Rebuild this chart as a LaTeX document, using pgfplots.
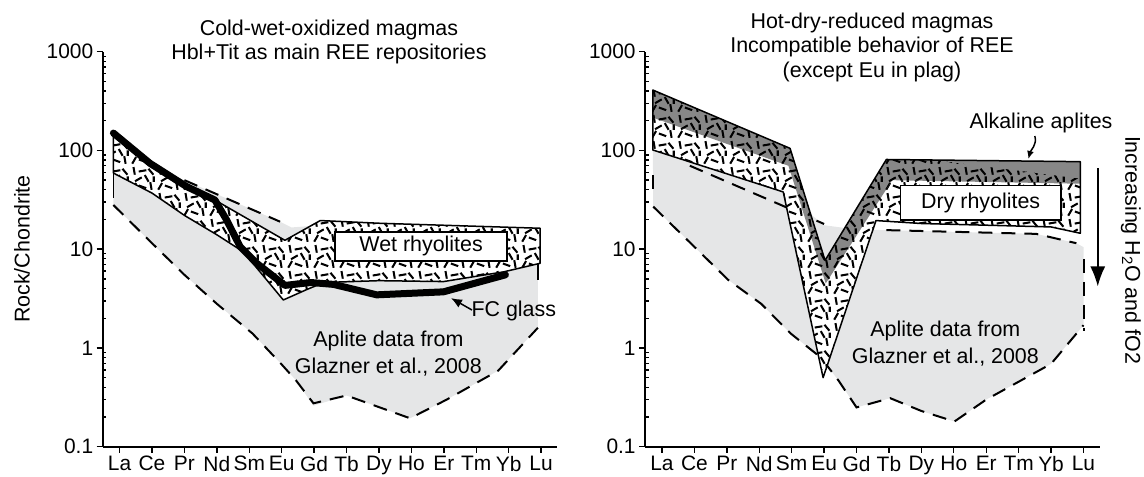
\documentclass[border=0pt]{standalone}
\usepackage{fontspec}
\setmainfont{Liberation Sans}
\usepackage{pgfplots}
\pgfplotsset{compat=1.18}
\usetikzlibrary{patterns,arrows.meta}

\definecolor{aplite}{RGB}{229,230,231}
\definecolor{band}{RGB}{135,135,135}

\pgfdeclarepatternformonly{volc}{\pgfqpoint{0bp}{0bp}}{\pgfqpoint{26bp}{26bp}}{\pgfqpoint{26bp}{26bp}}{%
  \pgfsetlinewidth{2.1bp}%
  \pgfsetbuttcap
  \pgfpathmoveto{\pgfqpoint{2.3bp}{1.34bp}}\pgfpathlineto{\pgfqpoint{6.3bp}{8.26bp}}%
  \pgfpathmoveto{\pgfqpoint{9.24bp}{5.67bp}}\pgfpathlineto{\pgfqpoint{16.76bp}{2.93bp}}%
  \pgfpathmoveto{\pgfqpoint{22.39bp}{1.26bp}}\pgfpathlineto{\pgfqpoint{21.01bp}{9.14bp}}%
  \pgfpathmoveto{\pgfqpoint{5.24bp}{10.1bp}}\pgfpathlineto{\pgfqpoint{12.16bp}{14.1bp}}%
  \pgfpathmoveto{\pgfqpoint{15.3bp}{16.46bp}}\pgfpathlineto{\pgfqpoint{19.3bp}{9.54bp}}%
  \pgfpathmoveto{\pgfqpoint{3.61bp}{24.74bp}}\pgfpathlineto{\pgfqpoint{4.99bp}{16.86bp}}%
  \pgfpathmoveto{\pgfqpoint{9.06bp}{20.11bp}}\pgfpathlineto{\pgfqpoint{16.94bp}{21.49bp}}%
  \pgfpathmoveto{\pgfqpoint{24.27bp}{16.84bp}}\pgfpathlineto{\pgfqpoint{19.13bp}{22.96bp}}%
  \pgfpathmoveto{\pgfqpoint{24.6bp}{9.5bp}}\pgfpathlineto{\pgfqpoint{24.6bp}{15bp}}%
  \pgfusepath{stroke}%
}

\newcommand{\ff}{\fontsize{21.5}{27}\selectfont}
\newcommand{\tf}{\fontsize{21}{25}\selectfont}

\pgfplotsset{
  dashenv/.style={line width=2bp, dash pattern=on 14bp off 9bp, black},
}

\begin{document}
\begin{tikzpicture}
\path[use as bounding box] (0,0) rectangle (1144bp,477bp);

% ---------------- LEFT PANEL ----------------
\begin{axis}[
    at={(102.7bp,30.3bp)}, anchor=south west,
    scale only axis, width=454.6bp, height=395bp,
    ymode=log, ymin=0.1, ymax=1000,
    xmin=-0.52, xmax=13.5,
    axis lines=left,
    axis line style={-, line width=2bp},
    xtick={0,1,2,3,4,5,6,7,8,9,10,11,12,13},
    xticklabels={La,Ce,Pr,Nd,Sm,Eu,Gd,Tb,Dy,Ho,Er,Tm,Yb,Lu},
    ytick={0.1,1,10,100,1000},
    yticklabels={0.1,1,10,100,1000},
    minor ytick={0.2,0.3,0.4,0.5,0.6,0.7,0.8,0.9,2,3,4,5,6,7,8,9,20,30,40,50,60,70,80,90,200,300,400,500,600,700,800,900},
    tick align=outside,
    major tick length=6bp, minor tick length=3.5bp,
    tick style={line width=1.4bp, black},
    minor tick style={xshift=3.5bp},
    tick label style={font=\tf},
    clip=false,
  ]
% aplite field
\addplot[fill=aplite, draw=none] coordinates {
 (-0.19,59) (2,50) (4.95,19) (5.3,16.6) (6.2,17.5) (9,16) (12.9,14) (12.9,1.6)
 (11.68,0.59) (10.09,0.30) (8.96,0.194) (7.0,0.33) (5.98,0.26) (5.44,0.47)
 (5.0,0.68) (4.1,1.4) (3,2.8) (2,5.5) (1,11.5) (-0.19,28)} -- cycle;
\addplot[dashenv] coordinates {(2,50) (4.95,19)};
\addplot[dashenv] coordinates {
 (-0.19,28) (1,11.5) (2,5.5) (3,2.8) (4.1,1.4) (5.0,0.68) (5.44,0.47) (5.98,0.275)
 (7.0,0.33) (8.96,0.194) (10.09,0.30) (11.68,0.59) (12.9,1.6)};
\addplot[line width=1.5bp] coordinates {(-0.19,59) (-0.19,33)};
\addplot[line width=1.5bp] coordinates {(12.9,7.2) (12.9,4.9)};
% wet rhyolite field
\addplot[fill=white, draw=none] coordinates {
 (-0.19,150) (0.94,74) (2.07,43) (2.94,31.5) (5.1,12.3) (6.19,19.5) (8.04,18.3)
 (12.97,16.3) (12.97,7.2) (11.85,5.9) (9.99,4.7) (8,4.8) (6.3,4.6) (5.77,3.9)
 (5.05,3.06) (3.82,9.4) (3,14) (2,22) (1,37) (-0.19,59)} -- cycle;
\addplot[pattern=volc, pattern color=black, draw=none] coordinates {
 (-0.19,150) (0.94,74) (2.07,43) (2.94,31.5) (5.1,12.3) (6.19,19.5) (8.04,18.3)
 (12.97,16.3) (12.97,7.2) (11.85,5.9) (9.99,4.7) (8,4.8) (6.3,4.6) (5.77,3.9)
 (5.05,3.06) (3.82,9.4) (3,14) (2,22) (1,37) (-0.19,59)} -- cycle;
\addplot[draw=black, line width=1.5bp, line join=round] coordinates {
 (-0.19,150) (0.94,74) (2.07,43) (2.94,31.5) (5.1,12.3) (6.19,19.5) (8.04,18.3)
 (12.97,16.3) (12.97,7.2) (11.85,5.9) (9.99,4.7) (8,4.8) (6.3,4.6) (5.77,3.9)
 (5.05,3.06) (3.82,9.4) (3,14) (2,22) (1,37) (-0.19,59)} -- cycle;
\draw[fill=white, line width=1.5bp] (axis cs:6.65,7.6) rectangle (axis cs:11.95,15);
\node[font=\ff] at (axis cs:9.3,10.7) {Wet rhyolites};
% FC glass
\addplot[line width=7bp, line join=round, line cap=round] coordinates {
 (-0.19,150) (0.94,74) (2.07,43) (2.94,31.5) (3.3,19.8) (3.72,10.6) (4.23,7.2)
 (5.1,4.3) (5.9,4.6) (6.6,4.4) (7.93,3.45) (9.99,3.7) (11.9,5.5)};
\draw[line width=1.5bp, -{Latex[length=11bp,width=9bp]}] (axis cs:10.87,2.42) -- (axis cs:10.22,3.2);
\node[font=\ff, anchor=west, inner sep=0pt] at (axis cs:10.85,2.37) {FC glass};
\node[font=\ff, align=center] at (axis cs:8.29,0.88) {Aplite data from\\Glazner et al., 2008};
\end{axis}

% ---------------- RIGHT PANEL ----------------
\begin{axis}[
    at={(645.1bp,30.3bp)}, anchor=south west,
    scale only axis, width=454.6bp, height=395bp,
    ymode=log, ymin=0.1, ymax=1000,
    xmin=-0.52, xmax=13.5,
    axis lines=left,
    axis line style={-, line width=2bp},
    xtick={0,1,2,3,4,5,6,7,8,9,10,11,12,13},
    xticklabels={La,Ce,Pr,Nd,Sm,Eu,Gd,Tb,Dy,Ho,Er,Tm,Yb,Lu},
    ytick={0.1,1,10,100,1000},
    yticklabels={0.1,1,10,100,1000},
    minor ytick={0.2,0.3,0.4,0.5,0.6,0.7,0.8,0.9,2,3,4,5,6,7,8,9,20,30,40,50,60,70,80,90,200,300,400,500,600,700,800,900},
    tick align=outside,
    major tick length=6bp, minor tick length=3.5bp,
    tick style={line width=1.4bp, black},
    minor tick style={xshift=3.5bp},
    tick label style={font=\tf},
    clip=false,
  ]
\addplot[fill=aplite, draw=none] coordinates {
 (-0.28,100) (3.75,38) (5.0,17.5) (6.0,15.8) (6.92,15.6) (11.54,14.3) (12.78,11.5)
 (13.0,10.5) (13.0,1.7) (12,0.69) (10,0.30) (9.02,0.18) (8,0.23) (7.04,0.31)
 (6.0,0.25) (5.44,0.47) (4.9,0.8) (3.97,1.4) (3.06,2.8) (2.04,4.9) (-0.27,27)} -- cycle;
\addplot[dashenv] coordinates {(0.86,70) (3.9,26) (5.0,18)};
\addplot[dashenv] coordinates {(6.92,15.6) (11.54,14.3) (12.78,11.5)};
\addplot[dashenv] coordinates {
 (-0.27,27) (2.04,4.9) (3.06,2.8) (3.97,1.4) (4.9,0.8) (5.44,0.47) (6.0,0.25)
 (7.04,0.31) (8,0.23) (9.02,0.18) (10,0.30) (12,0.69) (13,1.7)};
\addplot[dashenv] coordinates {(-0.27,56) (-0.27,35)};
\addplot[dashenv] coordinates {(13.03,8) (13.03,1.5)};
% dry rhyolite field
\addplot[fill=white, draw=none] coordinates {
 (-0.28,409) (3.95,105) (5.03,7.7) (6.92,81) (12.9,77) (12.9,14.5) (12,16.8)
 (10,17.5) (8,18.2) (6.6,19.5) (4.97,0.5) (3.74,38) (-0.28,101)} -- cycle;
\addplot[pattern=volc, pattern color=black, draw=none] coordinates {
 (-0.28,409) (3.95,105) (5.03,7.7) (6.92,81) (12.9,77) (12.9,14.5) (12,16.8)
 (10,17.5) (8,18.2) (6.6,19.5) (4.97,0.5) (3.74,38) (-0.28,101)} -- cycle;
% grey band
\addplot[fill=band, draw=none] coordinates {
 (-0.28,409) (3.95,105) (5.03,7.7) (6.92,81) (12.9,77) (12.9,46) (7.1,50)
 (5.05,4.5) (3.9,70) (-0.28,215)} -- cycle;
\addplot[pattern=volc, pattern color=black, draw=none] coordinates {
 (-0.28,409) (3.95,105) (5.03,7.7) (6.92,81) (12.9,77) (12.9,46) (7.1,50)
 (5.05,4.5) (3.9,70) (-0.28,215)} -- cycle;
% alkaline aplites wedge
\addplot[fill=band, draw=none] coordinates {(8.5,79.3) (12.9,77) (12.9,52)} -- cycle;
\addplot[draw=black, line width=1.5bp, line join=round] coordinates {
 (-0.28,409) (3.95,105) (5.03,7.7) (6.92,81) (12.9,77) (12.9,14.5) (12,16.8)
 (10,17.5) (8,18.2) (6.6,19.5) (4.97,0.5) (3.74,38) (-0.28,101)} -- cycle;
\draw[fill=white, line width=1.5bp] (axis cs:7.36,19.8) rectangle (axis cs:12.3,44);
\node[font=\ff] at (axis cs:9.83,29.5) {Dry rhyolites};
\node[font=\ff] at (axis cs:11.69,188) {Alkaline aplites};
\draw[line width=1.5bp, -{Latex[length=8bp,width=7bp]}] (axis cs:11.5,140) to[out=-75,in=75] (axis cs:11.3,82);
\draw[line width=1.6bp, -{Latex[length=20bp,width=15bp]}] (axis cs:13.44,66) -- (axis cs:13.44,4.2);
\node[font=\ff, align=center] at (axis cs:8.74,1.1) {Aplite data from\\Glazner et al., 2008};
\end{axis}

% ---------------- free text ----------------
\node[font=\ff, rotate=90] at (22bp,228bp) {Rock/Chondrite};
\node[font=\ff, anchor=base] at (329bp,441.5bp) {Cold-wet-oxidized magmas};
\node[font=\ff, anchor=base] at (329bp,417.3bp) {Hbl+Tit as main REE repositories};
\node[font=\ff, anchor=base] at (872bp,448.5bp) {Hot-dry-reduced magmas};
\node[font=\ff, anchor=base] at (872bp,424bp) {Incompatible behavior of REE};
\node[font=\ff, anchor=base] at (872bp,399.5bp) {(except Eu in plag)};
\node[font=\ff, rotate=-90] at (1131bp,227bp) {Increasing H\textsubscript{2}O and fO2};
\end{tikzpicture}
\end{document}
